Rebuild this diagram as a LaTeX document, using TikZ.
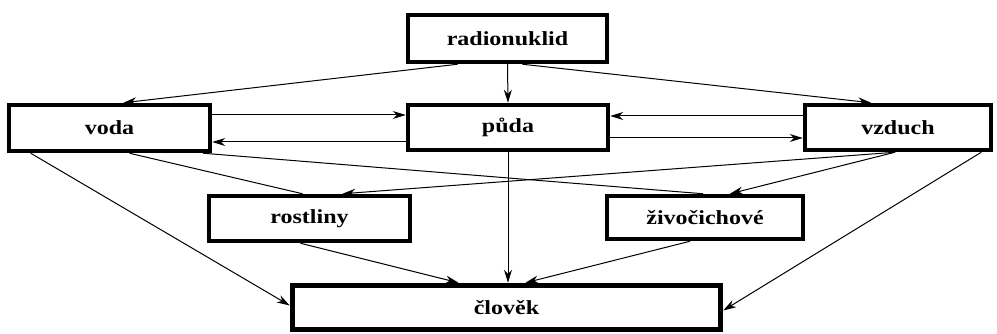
\documentclass[tikz,border=0pt]{standalone}
\usepackage{fontspec}
\usepackage{graphicx}
\setmainfont{Liberation Serif}
\usetikzlibrary{arrows.meta,calc}
\newcommand{\widetext}[1]{\scalebox{1.2}[1]{#1}}
\tikzset{
  box/.style={draw=black, line width=4.5pt, fill=white, inner sep=0pt,
    font=\fontsize{20}{24}\selectfont\bfseries},
  conn/.style={draw=black, line width=1pt},
  arr/.style={conn, -{Stealth[length=13pt,width=8pt]}}
}
\begin{document}
\begin{tikzpicture}[x=1pt,y=-1pt]
\useasboundingbox (0,0) rectangle (997,334);

% boxes
\node[box, minimum width=199pt, minimum height=47pt] (rad)    at (507.5,38.5)  {\widetext{radionuklid}};
\node[box, minimum width=201pt, minimum height=46pt] (voda)   at (109.5,128)   {\widetext{voda}};
\node[box, minimum width=200pt, minimum height=45pt] (puda)   at (508,127.5)   {\widetext{půda}};
\node[box, minimum width=186pt, minimum height=45pt] (vzduch) at (898,127.5)   {\widetext{vzduch}};
\node[box, minimum width=201pt, minimum height=45pt] (rost)   at (309.5,218.5) {\widetext{rostliny}};
\node[box, minimum width=196pt, minimum height=43pt] (ziv)    at (705,217.5)   {\widetext{živočichové}};
\node[box, line width=5.5pt, minimum width=428pt, minimum height=44pt] (clovek) at (506.5,307.5) {\widetext{člověk}};

% levels of the horizontal exchange arrows
\coordinate (yvu) at (0,115);
\coordinate (yvl) at (0,142);
\coordinate (yzu) at (0,116);
\coordinate (yzl) at (0,138);

% radionuklid
\draw[arr] (rad.south) -- (puda.north);
\draw[arr] ([xshift=-50pt]rad.south) -- ([xshift=14pt]voda.north);
\draw[arr] ([xshift=15pt]rad.south) -- ([xshift=-27pt]vzduch.north);

% voda <-> puda <-> vzduch
\draw[arr] (voda.east |- yvu) -- (puda.west |- yvu);
\draw[arr] (puda.west |- yvl) -- (voda.east |- yvl);
\draw[arr] (vzduch.west |- yzu) -- (puda.east |- yzu);
\draw[arr] (puda.east |- yzl) -- (vzduch.west |- yzl);

% towards plants and animals
\draw[conn] ([xshift=20pt]voda.south) -- ([xshift=-7pt]rost.north);
\draw[conn] ([xshift=-9pt]voda.south east) -- ([xshift=-2pt]ziv.north);
\draw[arr] ([xshift=-3pt]vzduch.south) -- ([xshift=33pt]rost.north);
\draw[arr] ([xshift=-3pt]vzduch.south) -- ([xshift=25pt]ziv.north);

% towards man
\draw[arr] ([xshift=24pt]voda.south west) -- ([yshift=2pt]clovek.west);
\draw[arr] ([xshift=-12pt]vzduch.south east) -- ([yshift=-3pt]clovek.east);
\draw[arr] ([xshift=-9pt]rost.south) -- ([xshift=-48pt]clovek.north);
\draw[arr] ([xshift=-15pt]ziv.south) -- ([xshift=19pt]clovek.north);
\draw[arr] (puda.south) -- (puda.south |- clovek.north);
\end{tikzpicture}
\end{document}
